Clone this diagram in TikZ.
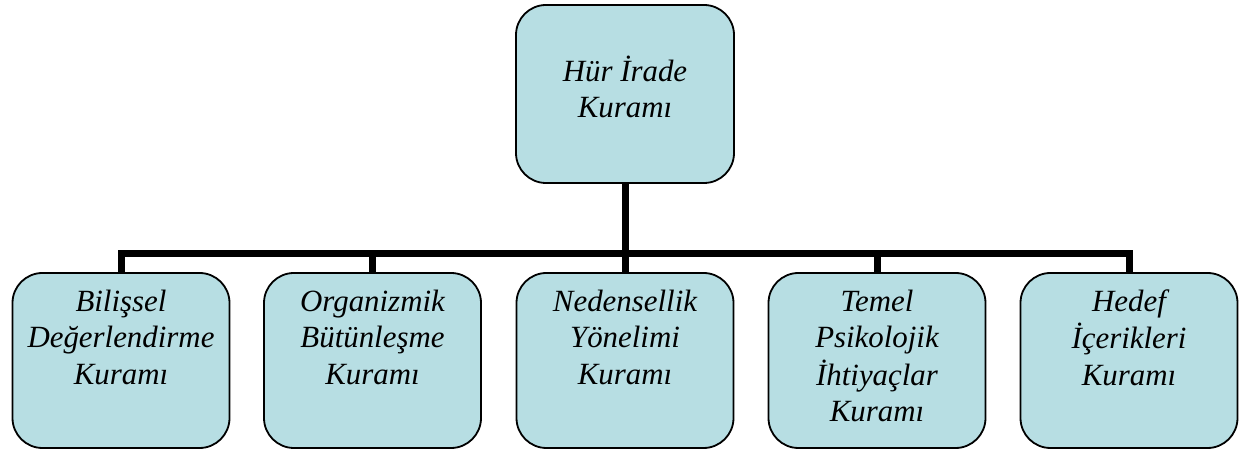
\documentclass[tikz,border=0pt]{standalone}
\usepackage{fontspec}
\setmainfont{Liberation Serif}
\definecolor{boxfill}{HTML}{B7DEE3}
\newcommand\boxtext[4]{\parbox[c][#1][t]{#2}{\centering\fontsize{31}{36.5}\selectfont\itshape\vspace*{#3}#4\par}}
\newcommand\lowtext[1]{\boxtext{175bp}{217bp}{13bp}{#1}}
\begin{document}
\begin{tikzpicture}[x=1bp,y=-1bp,
  box/.style={draw=black, line width=1.8bp, fill=boxfill, rounded corners=30bp,
              inner sep=0pt, minimum width=217bp, minimum height=175bp},
  conn/.style={draw=black, line width=7bp, line join=miter}]
\useasboundingbox (0,0) rectangle (1240,450);
\node[box, minimum width=218bp, minimum height=178bp] (top) at (625,94)
  {\boxtext{178bp}{218bp}{51bp}{\strut Hür İrade\\\strut Kuramı}};
\node[box] (b1) at (121,360.5) {\lowtext{\strut Bilişsel\\\strut Değerlendirme\\\strut Kuramı}};
\node[box] (b2) at (372.5,360.5) {\lowtext{\strut Organizmik\\\strut Bütünleşme\\\strut Kuramı}};
\node[box] (b3) at (625,360.5) {\lowtext{\strut Nedensellik\\\strut Yönelimi\\\strut Kuramı}};
\node[box] (b4) at (877,360.5) {\lowtext{\strut Temel\\\strut Psikolojik\\\strut İhtiyaçlar\\\strut Kuramı}};
\node[box] (b5) at (1129,360.5) {\lowtext{\strut Hedef\\\strut İçerikleri\\\strut Kuramı}};
\coordinate (bus) at (0,254);
\draw[conn] (top.south) -- (top.south |- bus);
\draw[conn] (b1.north) -- (b1.north |- bus) -- (b5.north |- bus) -- (b5.north);
\draw[conn] (b2.north) -- (b2.north |- bus);
\draw[conn] (b3.north) -- (b3.north |- bus);
\draw[conn] (b4.north) -- (b4.north |- bus);
\end{tikzpicture}
\end{document}
